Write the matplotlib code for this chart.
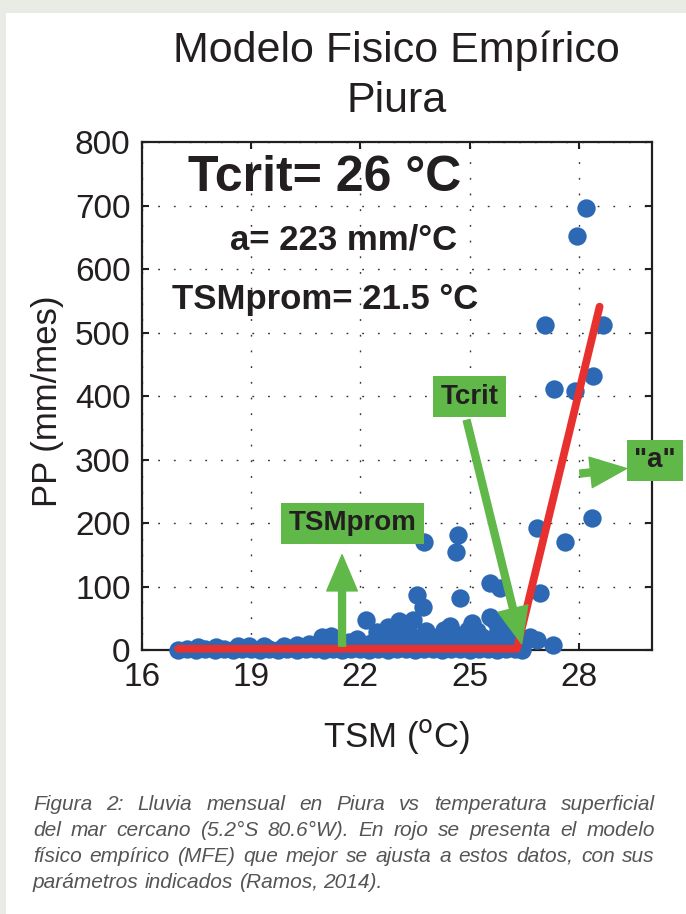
import matplotlib
matplotlib.use("Agg")
import matplotlib.pyplot as plt
from matplotlib.patches import FancyArrowPatch, Rectangle

# scatter data: TSM (C) vs PP (mm/mes), grouped only for readability
tsm_base = [17.0, 17.25, 17.5, 17.75, 18.0, 18.25, 18.5, 18.75, 19.0, 19.25,
            19.5, 19.75, 20.0, 20.25, 20.5, 20.75, 21.0, 21.25, 21.5, 21.75,
            22.0, 22.25, 22.5, 22.75, 23.0, 23.25, 23.5, 23.75, 24.0, 24.25,
            24.5, 24.75, 25.0, 25.25, 25.5, 25.75, 26.0, 26.25, 26.45]
pp_base = [0, 1, 0, 2, 0, 1, 0, 2, 1, 0,
           2, 0, 1, 0, 2, 1, 0, 2, 0, 1,
           2, 0, 1, 0, 2, 1, 0, 2, 1, 0,
           2, 1, 0, 2, 1, 0, 2, 1, 0]

tsm_low = [17.55, 18.05, 18.65, 18.95, 19.35, 19.9, 20.25, 20.6, 20.95, 21.2,
           21.45, 21.7, 22.0, 22.3, 22.6, 22.9, 23.0, 23.35, 23.6, 23.9,
           24.2, 24.4, 24.7, 25.0, 25.35, 25.6, 25.9, 26.1, 26.35, 22.4,
           23.2, 24.0, 24.9, 25.5, 26.2, 21.9, 22.45, 22.85, 23.15, 23.8,
           24.3, 24.6, 25.2, 26.0, 26.5]
pp_low = [5, 5, 6, 7, 6, 7, 8, 10, 20, 22,
          8, 13, 9, 11, 24, 15, 30, 26, 12, 18,
          22, 10, 14, 11, 20, 18, 9, 15, 6, 5,
          6, 5, 6, 6, 28, 18, 28, 24, 20, 30,
          32, 25, 30, 22, 12]

tsm_mid = [22.15, 22.75, 23.05, 23.45, 24.47, 25.06, 25.66, 25.56, 25.78, 24.95,
           23.55, 23.73, 24.74, 25.56, 25.84, 26.93, 26.66, 26.84, 27.3, 25.9]
pp_mid = [47, 37, 45, 47, 38, 42, 48, 52, 35, 32,
          86, 68, 82, 106, 97, 90, 21, 16, 8, 40]

tsm_high = [23.75, 24.69, 24.62, 26.86, 27.62, 28.35, 27.32, 27.89, 28.40, 27.07,
            28.67, 27.94, 28.19]
pp_high = [170, 181, 155, 192, 170, 208, 411, 408, 431, 512,
           512, 653, 697]

# fitted model (red line)
model_tsm = [17.0, 26.3, 28.57]
model_pp = [2, 2, 541]

tsm_prom = 21.5
xticks = [16, 19, 22, 25, 28]
yticks = [0, 100, 200, 300, 400, 500, 600, 700, 800]

caption = ["Figura 2: Lluvia mensual en Piura vs temperatura superficial",
           "del mar cercano (5.2°S 80.6°W). En rojo se presenta el modelo",
           "físico empírico (MFE) que mejor se ajusta a estos datos, con sus",
           "parámetros indicados (Ramos, 2014)."]

W, H = 686, 914
blue = '#2c68b4'
red = '#e8312f'
green = '#60b848'
ink = '#231f20'

plt.rcParams['font.family'] = ['Liberation Sans', 'DejaVu Sans']

fig = plt.figure(figsize=(W / 100, H / 100), dpi=100)
fig.patch.set_facecolor('#e9ebe5')
fig.add_artist(Rectangle((6 / W, 0), 1, 1 - 13 / H, transform=fig.transFigure,
                         facecolor='white', edgecolor='none', zorder=-1))

ax = fig.add_axes([141.7 / W, 264 / H, 510 / W, 507.7 / H])
ax.set_xlim(16, 30)
ax.set_ylim(0, 800)
ax.set_xticks(xticks)
ax.set_yticks(yticks)
ax.set_axisbelow(True)
ax.grid(True, color='#333333', linestyle=(0, (1.3, 10)), linewidth=1.0)
ax.tick_params(direction='in', top=True, right=True, length=5, width=1.5,
               labelsize=24, colors=ink)
ax.tick_params(axis='x', pad=8.5)
ax.tick_params(axis='y', pad=8)
for s in ax.spines.values():
    s.set_linewidth(1.6)
    s.set_color(ink)

for xs, ys in [(tsm_base, pp_base), (tsm_low, pp_low), (tsm_mid, pp_mid), (tsm_high, pp_high)]:
    ax.scatter(xs, ys, s=175, c=blue, linewidths=0, zorder=3, clip_on=False)

ax.plot(model_tsm, model_pp, color=red, lw=5.6, solid_capstyle='round',
        solid_joinstyle='round', zorder=4, clip_on=False)

def green_arrow(p0, p1):
    ax.add_patch(FancyArrowPatch(p0, p1, arrowstyle='simple,head_length=26,head_width=22,tail_width=5',
                                 mutation_scale=1, color=green, lw=1, joinstyle='round',
                                 shrinkA=0, shrinkB=0, zorder=5, clip_on=False))

green_arrow((tsm_prom, 6), (tsm_prom, 150))
green_arrow((24.92, 362), (26.43, 10))
green_arrow((28.03, 278), (29.31, 286))

box = dict(boxstyle='square,pad=0.27', fc=green, ec='none')
ax.text(25.01, 399, 'Tcrit', fontsize=20, fontweight='bold', color=ink,
        ha='center', va='center', bbox=box, zorder=6)
ax.text(21.79, 200, 'TSMprom', fontsize=20, fontweight='bold', color=ink,
        ha='center', va='center', bbox=box, zorder=6)
ax.text(30.09, 299, '"a"', fontsize=20, fontweight='bold', color=ink,
        ha='center', va='center', bbox=box, zorder=6, clip_on=False)

ax.text(0.358, 0.930, 'Tcrit= 26 °C', transform=ax.transAxes, fontsize=36,
        fontweight='bold', color=ink, ha='center', va='center')
ax.text(0.395, 0.808, 'a= 223 mm/°C', transform=ax.transAxes, fontsize=25,
        fontweight='bold', color=ink, ha='center', va='center')
ax.text(0.359, 0.690, 'TSMprom= 21.5 °C', transform=ax.transAxes, fontsize=25,
        fontweight='bold', color=ink, ha='center', va='center')

ax.set_title('Modelo Fisico Empírico\nPiura', fontsize=31, color=ink,
             pad=22, linespacing=1.3)
ax.set_xlabel('TSM ($^{\\mathrm{o}}$C)', fontsize=25, color=ink)
ax.xaxis.set_label_coords(0.5, -0.171)
ax.xaxis.label.set_va('center')
ax.set_ylabel('PP (mm/mes)', fontsize=25, color=ink)
ax.yaxis.set_label_coords(-0.185, 0.49)
ax.yaxis.label.set_va('center')

# justified caption
renderer = fig.canvas.get_renderer()
cap_size = 15
left, right = 33, 655
for i, line in enumerate(caption):
    y = 1 - (810 + 26 * i) / H
    words = line.split(' ')
    texts = [fig.text(0, y, w, fontsize=cap_size, style='italic', color='#555555',
                      va='baseline', ha='left') for w in words]
    widths = [t.get_window_extent(renderer).width for t in texts]
    if i < len(caption) - 1:
        gap = (right - left - sum(widths)) / (len(words) - 1)
    else:
        gap = 0.278 * cap_size * 100 / 72
    x = left
    for t, w in zip(texts, widths):
        t.set_x(x / W)
        x += w + gap

fig.savefig('out.png', dpi=100, facecolor=fig.get_facecolor())
